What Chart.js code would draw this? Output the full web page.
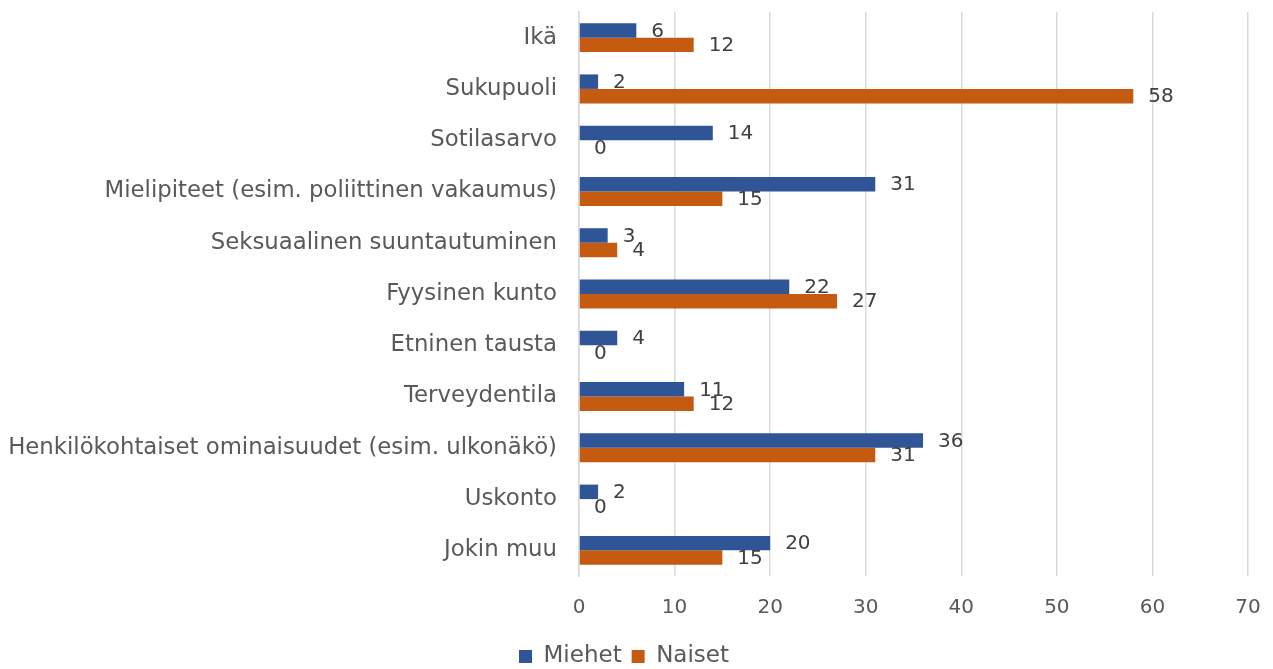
<!DOCTYPE html>
<html>
<head>
<meta charset="utf-8">
<script src="https://cdn.jsdelivr.net/npm/chart.js@4"></script>
<style>
  html, body { margin: 0; padding: 0; background: #fff; }
  #wrap { width: 1273px; height: 669px; }
</style>
</head>
<body>
<div id="wrap"><canvas id="myChart"></canvas></div>
<script>
const categories = [
  "Ikä",
  "Sukupuoli",
  "Sotilasarvo",
  "Mielipiteet (esim. poliittinen vakaumus)",
  "Seksuaalinen suuntautuminen",
  "Fyysinen kunto",
  "Etninen tausta",
  "Terveydentila",
  "Henkilökohtaiset ominaisuudet (esim. ulkonäkö)",
  "Uskonto",
  "Jokin muu",
];
const miehet = [6, 2, 14, 31, 3, 22, 4, 11, 36, 2, 20];
const naiset = [12, 58, 0, 15, 4, 27, 0, 12, 31, 0, 15];
const xTicks = [0, 10, 20, 30, 40, 50, 60, 70];

const FONT = "DejaVu Sans";

// draws value labels just past the end of each bar
const valueLabels = {
  id: "valueLabels",
  afterDatasetsDraw(chart) {
    const c = chart.ctx;
    c.save();
    c.font = "20px '" + FONT + "'";
    c.fillStyle = "#404040";
    c.textAlign = "left";
    c.textBaseline = "middle";
    chart.data.datasets.forEach((ds, i) => {
      chart.getDatasetMeta(i).data.forEach((bar, j) => {
        c.fillText(String(ds.data[j]), bar.x + 15, bar.y + 1);
      });
    });
    c.restore();
  },
};

const ctx = document.getElementById("myChart");

new Chart(ctx, {
  type: "bar",
  data: {
    labels: categories,
    datasets: [
      {
        label: "Miehet",
        data: miehet,
        backgroundColor: "#2F5597",
        barPercentage: 1,
        categoryPercentage: 0.565,
      },
      {
        label: "Naiset",
        data: naiset,
        backgroundColor: "#C55A11",
        barPercentage: 1,
        categoryPercentage: 0.565,
      },
    ],
  },
  options: {
    indexAxis: "y",
    responsive: true,
    maintainAspectRatio: false,
    animation: false,
    layout: {
      padding: { top: 12, right: 25, bottom: -9, left: 0 },
    },
    scales: {
      x: {
        min: 0,
        max: 70,
        afterBuildTicks: (scale) => {
          scale.ticks = xTicks.map((v) => ({ value: v }));
        },
        afterFit: (scale) => {
          scale.height = 59;
          scale.paddingLeft = 0;
          scale.paddingRight = 0;
        },
        border: { display: false },
        grid: { color: "#d9d9d9", lineWidth: 1.5, drawTicks: false },
        ticks: {
          padding: 20,
          color: "#595959",
          font: { family: FONT, size: 20 },
        },
      },
      y: {
        afterFit: (scale) => {
          scale.width = 579;
          scale.paddingTop = 0;
          scale.paddingBottom = 0;
        },
        border: { display: true, color: "#d9d9d9", width: 1.5 },
        grid: { display: false, drawTicks: false },
        ticks: {
          padding: 22,
          color: "#595959",
          font: { family: FONT, size: 22.8 },
        },
      },
    },
    plugins: {
      legend: {
        position: "bottom",
        labels: {
          boxWidth: 13,
          boxHeight: 13,
          padding: 10,
          color: "#595959",
          font: { family: FONT, size: 23 },
        },
      },
      tooltip: { enabled: false },
    },
  },
  plugins: [valueLabels],
});
</script>
</body>
</html>
